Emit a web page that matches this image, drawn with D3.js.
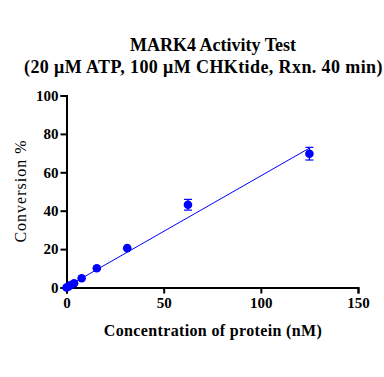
<!DOCTYPE html>
<html>
<head>
<meta charset="utf-8">
<script src="https://cdn.jsdelivr.net/npm/d3@7"></script>
<style>
  body { margin: 0; background: #fff; }
  svg { display: block; }
  text { font-family: "Liberation Serif", "Times New Roman", serif; }
</style>
</head>
<body>
<script>
// data
const concentration = [0, 0.98, 1.95, 3.9, 7.8, 15.6, 31.25, 62.5, 125];
const conversion = [0, 0.5, 1.2, 2.2, 4.8, 10.0, 20.5, 43.1, 69.7];
const conversionErr = [0, 0, 0, 0, 0, 0, 0, 2.8, 3.3];
const fitX = [0, 125];
const fitY = [0.3, 72.6];
const xTicks = [0, 50, 100, 150];
const yTicks = [0, 20, 40, 60, 80, 100];

const width = 384, height = 377;

const svg = d3.select('body').append('svg')
	.attr('width', width)
	.attr('height', height);

const x = d3.scaleLinear().domain([0, 150]).range([66.5, 358]);
const y = d3.scaleLinear().domain([0, 100]).range([287.5, 95.5]);

// title
svg.append('text')
	.attr('x', 213).attr('y', 51)
	.attr('text-anchor', 'middle')
	.attr('font-weight', 'bold')
	.attr('font-size', 18)
	.text('MARK4 Activity Test');
svg.append('text')
	.attr('x', 24).attr('y', 73)
	.attr('font-weight', 'bold')
	.attr('font-size', 18)
	.attr('letter-spacing', 0.4)
	.text('(20 μM ATP, 100 μM CHKtide, Rxn. 40 min)');

// axes
const xAxis = svg.append('g')
	.attr('transform', `translate(0,${y(0)})`)
	.call(d3.axisBottom(x).tickValues(xTicks).tickSize(6).tickPadding(4));
const yAxis = svg.append('g')
	.attr('transform', `translate(${x(0)},0)`)
	.call(d3.axisLeft(y).tickValues(yTicks).tickSize(6).tickPadding(2));

[xAxis, yAxis].forEach(a => {
	a.select('.domain').attr('stroke', '#000').attr('stroke-width', 2);
	a.selectAll('.tick line').attr('stroke', '#000').attr('stroke-width', 2);
	a.selectAll('.tick text')
		.attr('fill', '#000')
		.attr('font-weight', 'bold')
		.attr('font-size', 15);
});

// axis labels
svg.append('text')
	.attr('x', 213).attr('y', 336)
	.attr('text-anchor', 'middle')
	.attr('font-weight', 'bold')
	.attr('font-size', 16)
	.attr('letter-spacing', 0.35)
	.text('Concentration of protein (nM)');
svg.append('text')
	.attr('transform', 'translate(26,191) rotate(-90)')
	.attr('text-anchor', 'middle')
	.attr('font-size', 16)
	.attr('letter-spacing', 1)
	.text('Conversion %');

// fit line
svg.append('path')
	.datum(d3.zip(fitX, fitY))
	.attr('fill', 'none')
	.attr('stroke', '#0000ff')
	.attr('stroke-width', 1)
	.attr('d', d3.line().x(d => x(d[0])).y(d => y(d[1])));

const pts = d3.zip(concentration, conversion, conversionErr);

// error bars
const eb = svg.append('g').attr('stroke', '#0000ff').attr('stroke-width', 1.2);
pts.filter(d => d[2] > 0).forEach(d => {
	const cx = x(d[0]);
	eb.append('line').attr('x1', cx).attr('x2', cx).attr('y1', y(d[1] - d[2])).attr('y2', y(d[1] + d[2]));
	eb.append('line').attr('x1', cx - 4).attr('x2', cx + 4).attr('y1', y(d[1] + d[2])).attr('y2', y(d[1] + d[2]));
	eb.append('line').attr('x1', cx - 4).attr('x2', cx + 4).attr('y1', y(d[1] - d[2])).attr('y2', y(d[1] - d[2]));
});

// points
svg.append('g').selectAll('circle')
	.data(pts)
	.join('circle')
		.attr('cx', d => x(d[0]))
		.attr('cy', d => y(d[1]))
		.attr('r', 4.3)
		.attr('fill', '#0000ff');
</script>
</body>
</html>
